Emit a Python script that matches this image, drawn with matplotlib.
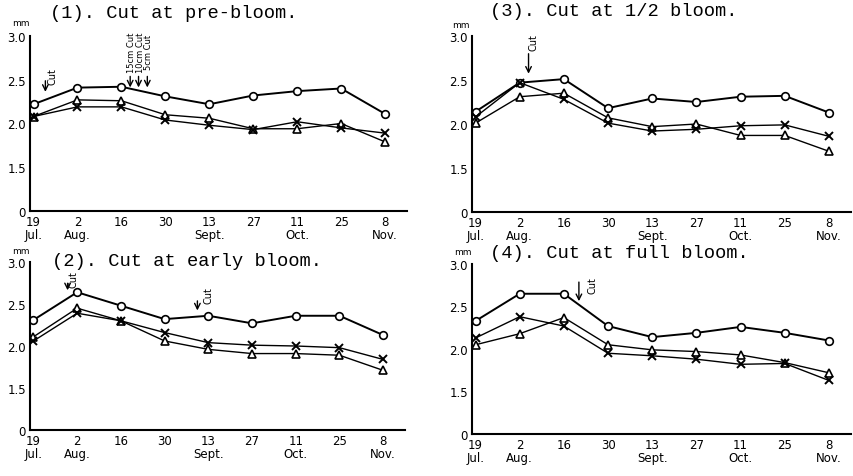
import matplotlib
matplotlib.use("Agg")
import matplotlib.pyplot as plt

dates = ["19", "2", "16", "30", "13", "27", "11", "25", "8"]
months = ["Jul.", "Aug.", "", "", "Sept.", "", "Oct.", "", "Nov."]
ytick_vals = [1.0, 1.5, 2.0, 2.5, 3.0]          # broken axis: bottom shown as 0
ytick_labels = ["0", "1.5", "2.0", "2.5", "3.0"]

# (1) Cut at pre-bloom
p1_circle = [2.22, 2.41, 2.42, 2.31, 2.22, 2.32, 2.37, 2.40, 2.11]
p1_tri    = [2.08, 2.27, 2.26, 2.10, 2.06, 1.94, 1.94, 2.00, 1.79]
p1_cross  = [2.08, 2.19, 2.19, 2.04, 1.98, 1.93, 2.02, 1.95, 1.89]
# (3) Cut at 1/2 bloom
p3_circle = [2.14, 2.47, 2.51, 2.18, 2.29, 2.25, 2.31, 2.32, 2.13]
p3_tri    = [2.01, 2.31, 2.35, 2.07, 1.97, 2.00, 1.87, 1.87, 1.69]
p3_cross  = [2.08, 2.47, 2.28, 2.01, 1.92, 1.94, 1.98, 1.99, 1.86]
# (2) Cut at early bloom
p2_circle = [2.31, 2.64, 2.48, 2.32, 2.36, 2.27, 2.36, 2.36, 2.13]
p2_tri    = [2.11, 2.45, 2.30, 2.06, 1.96, 1.91, 1.91, 1.89, 1.71]
p2_cross  = [2.06, 2.39, 2.30, 2.16, 2.04, 2.01, 2.00, 1.98, 1.84]
# (4) Cut at full bloom
p4_circle = [2.33, 2.65, 2.65, 2.27, 2.14, 2.19, 2.26, 2.19, 2.10]
p4_tri    = [2.05, 2.18, 2.37, 2.05, 1.99, 1.97, 1.93, 1.84, 1.72]
p4_cross  = [2.13, 2.38, 2.27, 1.95, 1.92, 1.88, 1.82, 1.83, 1.63]

W, H = 854, 477
fig = plt.figure(figsize=(W / 100, H / 100), dpi=100)

def make_ax(left, right, top, bottom):
    return fig.add_axes([left / W, 1 - bottom / H, (right - left) / W, (bottom - top) / H])

panels = [
    dict(box=(30, 407, 37, 212), data=(p1_circle, p1_tri, p1_cross),
         title="(1). Cut at pre-bloom.", tpos=(50, 14), mm=(12, 23)),
    dict(box=(472, 851, 37, 213), data=(p3_circle, p3_tri, p3_cross),
         title="(3). Cut at 1/2 bloom.", tpos=(490, 11), mm=(452, 26)),
    dict(box=(30, 405, 263, 431), data=(p2_circle, p2_tri, p2_cross),
         title="(2). Cut at early bloom.", tpos=(52, 262), mm=(12, 252)),
    dict(box=(472, 851, 265, 435), data=(p4_circle, p4_tri, p4_cross),
         title="(4). Cut at full bloom.", tpos=(490, 254), mm=(454, 253)),
]

xt = list(range(len(dates)))
xlabels = [d + ("\n" + m if m else "") for d, m in zip(dates, months)]

axes = []
for p in panels:
    ax = make_ax(*p["box"])
    axes.append(ax)
    c, t, x = p["data"]
    ax.plot(xt, c, color="black", lw=1.4, marker="o", ms=5.5, mfc="white", mec="black", mew=1.2)
    ax.plot(xt, t, color="black", lw=1.0, marker="^", ms=5.5, mfc="white", mec="black", mew=1.2)
    ax.plot(xt, x, color="black", lw=1.0, marker="x", ms=5.5, mec="black", mew=1.4)
    ax.set_xlim(-0.08, 8.5)
    ax.set_ylim(1.0, 3.0)
    ax.set_yticks(ytick_vals)
    ax.set_yticklabels(ytick_labels)
    ax.set_xticks(xt)
    ax.set_xticklabels(xlabels, linespacing=0.95)
    for s in ("top", "right"):
        ax.spines[s].set_visible(False)
    for s in ("left", "bottom"):
        ax.spines[s].set_linewidth(1.5)
    ax.tick_params(axis="both", length=0, labelsize=8.5, pad=3)
    ax.patch.set_alpha(0)
    fig.text(p["tpos"][0] / W, 1 - p["tpos"][1] / H, p["title"], family="Liberation Mono",
             fontsize=13.5, va="center", ha="left")
    fig.text(p["mm"][0] / W, 1 - p["mm"][1] / H, "mm", fontsize=6.5, va="center", ha="left")

def cut(ax, x, y0, y1, tx, ty, label="Cut", fs=7):
    ax.annotate("", xy=(x, y1), xytext=(x, y0),
                arrowprops=dict(arrowstyle="->", color="black", lw=1.0))
    ax.text(tx, ty, label, rotation=90, fontsize=fs, ha="center", va="center")

a1, a3, a2, a4 = axes
cut(a1, 0.27, 2.52, 2.33, 0.43, 2.55)
cut(a1, 2.20, 2.57, 2.38, 2.24, 2.82, "15cm Cut", 6)
cut(a1, 2.39, 2.57, 2.38, 2.43, 2.82, "10cm Cut", 6)
cut(a1, 2.59, 2.57, 2.38, 2.62, 2.82, "5cm Cut", 6)
cut(a3, 1.20, 2.83, 2.54, 1.32, 2.94)
cut(a2, 0.78, 2.78, 2.63, 0.91, 2.80)
cut(a2, 3.75, 2.57, 2.39, 4.00, 2.61)
cut(a4, 2.34, 2.82, 2.53, 2.64, 2.76)

fig.savefig("out.png", dpi=100)
